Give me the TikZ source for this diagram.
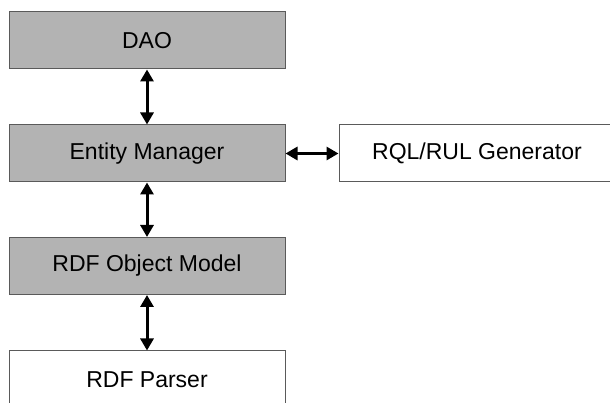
\documentclass[tikz,border=0pt]{standalone}
\usepackage{fontspec}
\setmainfont{Liberation Sans}
\usetikzlibrary{arrows.meta}
\definecolor{boxgray}{RGB}{179,179,179}
\definecolor{edgegray}{RGB}{90,90,90}
\begin{document}
\begin{tikzpicture}[x=1pt,y=1pt,
  layer/.style={draw=edgegray, line width=1pt, minimum width=276pt, minimum height=57pt, inner sep=0pt, font=\fontsize{23}{27}\selectfont},
  shaded/.style={layer, fill=boxgray},
  plain/.style={layer, fill=white},
  link/.style={line width=3pt, {Triangle[length=12pt,width=13pt]}-{Triangle[length=12pt,width=13pt]}}]
\useasboundingbox (0,0) rectangle (610,403);
\clip (0,0) rectangle (610,403);
\node[shaded] (dao) at (147,362.5) {DAO};
\node[shaded] (em) at (147,249.5) {Entity Manager};
\node[shaded] (rom) at (147,137) {RDF Object Model};
\node[plain] (parser) at (147,23.5) {RDF Parser};
\node[plain] (rql) at (477,249.5) {RQL/RUL Generator};
\draw[link] (dao.south) -- (em.north);
\draw[link] (em.south) -- (rom.north);
\draw[link] (rom.south) -- (parser.north);
\draw[link] (em.east) -- (rql.west);
\end{tikzpicture}
\end{document}
